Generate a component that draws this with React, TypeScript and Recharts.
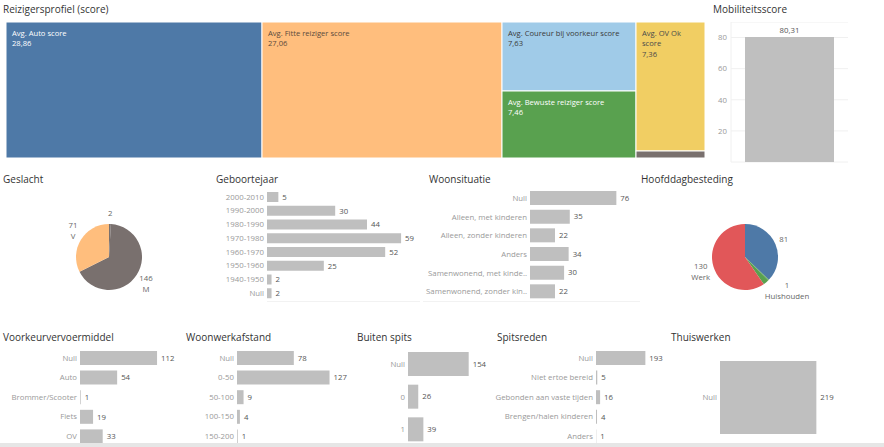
import React from 'react'
import { BarChart, Bar, XAxis, YAxis, LabelList, PieChart, Pie, Cell, Treemap, CartesianGrid } from 'recharts'

const FONT = '"Open Sans", "Noto Sans", sans-serif'
const BAR = '#bfbfbf'
const TICK = '#999999'
const VAL = '#555555'

// Reizigersprofiel (score) - treemap
const profielNamen = [
  'Avg. Auto score',
  'Avg. Fitte reiziger score',
  'Avg. Coureur bij voorkeur score',
  'Avg. Bewuste reiziger score',
  'Avg. OV Ok score',
  'Avg. Overige score',
]
const profielScores = [28.86, 27.06, 7.63, 7.46, 7.36, 0.45]
const profielKleur = ['#4e79a7', '#ffbe7d', '#a0cbe8', '#59a14f', '#f1ce63', '#79706e']
const profielTekst = ['#ffffff', '#5a4a3c', '#3a3a3a', '#ffffff', '#4a4a4a', '#ffffff']

// Mobiliteitsscore
const mobScore = [80.31]
const mobTicks = [0, 20, 40, 60, 80]

// Geslacht
const geslachtNamen = ['Null', 'M', 'V']
const geslachtAantal = [2, 146, 71]
const geslachtKleur = ['#79706e', '#79706e', '#ffbe7d']

// Geboortejaar
const geboorteCat = ['2000-2010', '1990-2000', '1980-1990', '1970-1980', '1960-1970', '1950-1960', '1940-1950', 'Null']
const geboorteAantal = [5, 30, 44, 59, 52, 25, 2, 2]

// Woonsituatie
const woonCat = ['Null', 'Alleen, met kinderen', 'Alleen, zonder kinderen', 'Anders', 'Samenwonend, met kinde..', 'Samenwonend, zonder kin..']
const woonAantal = [76, 35, 22, 34, 30, 22]

// Hoofddagbesteding
const dagNamen = ['Null', 'Huishouden', 'Overig', 'Werk']
const dagAantal = [81, 1, 6, 130]
const dagKleur = ['#4e79a7', '#59a14f', '#59a14f', '#e15759']
const dagVerborgen = ['Overig']

// Voorkeurvervoermiddel
const vervoerCat = ['Null', 'Auto', 'Brommer/Scooter', 'Fiets', 'OV']
const vervoerAantal = [112, 54, 1, 19, 33]

// Woonwerkafstand
const afstandCat = ['Null', '0-50', '50-100', '100-150', '150-200']
const afstandAantal = [78, 127, 9, 4, 1]

// Buiten spits
const spitsCat = ['Null', '0', '1']
const spitsAantal = [154, 26, 39]

// Spitsreden
const redenCat = ['Null', 'Niet ertoe bereid', 'Gebonden aan vaste tijden', 'Brengen/halen kinderen', 'Anders']
const redenAantal = [193, 5, 16, 4, 1]

// Thuiswerken
const thuisCat = ['Null']
const thuisAantal = [219]

const komma = (v: number) => v.toFixed(2).replace('.', ',')

function wrap(text: string, maxChars: number) {
  const words = text.split(' ')
  const lines: string[] = []
  let cur = ''
  words.forEach(w => {
    const next = cur ? cur + ' ' + w : w
    if (next.length > maxChars && cur) {
      lines.push(cur)
      cur = w
    } else cur = next
  })
  if (cur) lines.push(cur)
  return lines
}

function ProfielCell(props: any) {
  const { x, y, width, height, depth, name, value } = props
  if (depth !== 1) return null
  const i = profielNamen.indexOf(name)
  const lines = height > 25 ? [...wrap(name, Math.floor((width - 10) / 3.7)), komma(value)] : []
  return (
    <g>
      <rect x={x} y={y} width={width} height={height} fill={profielKleur[i]} stroke="#fff" strokeWidth={1} />
      {lines.map((l, k) => (
        <text key={k} x={x + 6} y={y + 13.5 + k * 10.5} fontSize={7.6} fill={profielTekst[i]} fontFamily={FONT}>
          {l}
        </text>
      ))}
    </g>
  )
}

function CatTick(props: any) {
  const { x, y, payload } = props
  return (
    <text x={x} y={y} dy={2.8} textAnchor="end" fontSize={7.8} fill={TICK} fontFamily={FONT}>
      {payload.value}
    </text>
  )
}

// Tableau pulls the bottom tick label up inside the pane
function ScoreTick(props: any) {
  const { x, y, payload } = props
  return (
    <text x={x} y={y} dy={payload.value === 0 ? -3 : 2.8} textAnchor="end" fontSize={7.8} fill={TICK} fontFamily={FONT}>
      {payload.value}
    </text>
  )
}

function ValLabel(props: any) {
  const { x, y, width, height, value } = props
  return (
    <text x={x + width + 4} y={y + height / 2 + 2.8} fontSize={7.8} fill={VAL} fontFamily={FONT}>
      {value}
    </text>
  )
}

function HBar({ cats, vals, left, top, width, height, axisWidth, max, barSize }: any) {
  const data = cats.map((naam: string, i: number) => ({ naam, aantal: vals[i] }))
  return (
    <div style={{ position: 'absolute', left, top }}>
      <BarChart width={width + 24} height={height} data={data} layout="vertical" margin={{ top: 0, right: 24, bottom: 0, left: 0 }}>
        <XAxis type="number" domain={[0, max]} hide />
        <YAxis type="category" dataKey="naam" width={axisWidth} axisLine={false} tickLine={false} tickSize={0} tickMargin={3} tick={<CatTick />} interval={0} />
        <Bar dataKey="aantal" fill={BAR} barSize={barSize} isAnimationActive={false}>
          <LabelList dataKey="aantal" content={<ValLabel />} />
        </Bar>
      </BarChart>
    </div>
  )
}

const RAD = Math.PI / 180
function pieLabel(hidden: string[]) {
  return (p: any) => {
    const { cx, cy, midAngle, outerRadius, value, name } = p
    if (hidden.includes(name)) return null
    const cos = Math.cos(-midAngle * RAD)
    const sin = Math.sin(-midAngle * RAD)
    const lines = name !== 'Null' ? [String(value), name] : [String(value)]
    const w = Math.max(...lines.map(l => l.length)) * 4.2
    const h = lines.length * 11
    const ax = cx + (outerRadius + 5) * cos + (cos * w) / 2
    const ay = cy + (outerRadius + 5) * sin + (sin * h) / 2
    const y0 = ay - h / 2 + 8
    return (
      <text x={ax} y={y0} textAnchor="middle" fontSize={7.8} fill="#666" fontFamily={FONT}>
        {lines.map((l, i) => (
          <tspan key={i} x={ax} y={y0 + i * 11}>
            {l}
          </tspan>
        ))}
      </text>
    )
  }
}

function Taart({ namen, vals, kleuren, hidden, cx, cy }: any) {
  const data = namen.map((name: string, i: number) => ({ name, value: vals[i] }))
  return (
    <div style={{ position: 'absolute', left: cx - 85, top: cy - 60 }}>
      <PieChart width={170} height={120} margin={{ top: 0, right: 0, bottom: 0, left: 0 }}>
        <Pie
          data={data}
          dataKey="value"
          nameKey="name"
          cx={85}
          cy={60}
          outerRadius={33}
          startAngle={90}
          endAngle={-270}
          stroke="none"
          label={pieLabel(hidden)}
          labelLine={false}
          isAnimationActive={false}
        >
          {data.map((_: any, i: number) => (
            <Cell key={i} fill={kleuren[i]} />
          ))}
        </Pie>
      </PieChart>
    </div>
  )
}

const titels: [string, number, number][] = [
  ['Reizigersprofiel (score)', 3, 12.5],
  ['Mobiliteitsscore', 713, 12.5],
  ['Geslacht', 3, 182.5],
  ['Geboortejaar', 216, 182.5],
  ['Woonsituatie', 429, 182.5],
  ['Hoofddagbesteding', 641, 182.5],
  ['Voorkeurvervoermiddel', 3, 341],
  ['Woonwerkafstand', 186, 341],
  ['Buiten spits', 357, 341],
  ['Spitsreden', 497, 341],
  ['Thuiswerken', 671, 341],
]

export default function App() {
  const profielData = profielNamen.map((name, i) => ({ name, value: profielScores[i] }))
  const mobData = mobScore.map(score => ({ naam: 'Mobiliteitsscore', score }))

  return (
    <div style={{ position: 'absolute', left: 0, top: 0, width: 884, height: 447, background: '#fff', overflow: 'hidden', fontFamily: FONT }}>
      {/* Treemap */}
      <div style={{ position: 'absolute', left: 6, top: 22 }}>
        <Treemap width={699} height={136} data={profielData} dataKey="value" nameKey="name" content={<ProfielCell />} isAnimationActive={false} />
      </div>

      {/* Mobiliteitsscore */}
      <div style={{ position: 'absolute', left: 700, top: 22 }}>
        <BarChart width={148} height={146} data={mobData} margin={{ top: 0, right: 0, bottom: 6, left: 0 }}>
          <CartesianGrid vertical={false} stroke="#f0f0f0" />
          <XAxis dataKey="naam" hide />
          <YAxis
            domain={[0, 90]}
            ticks={mobTicks}
            width={31}
            axisLine={{ stroke: '#f0f0f0' }}
            tickLine={false}
            tickSize={0}
            tickMargin={4}
            tick={<ScoreTick />}
          />
          <Bar dataKey="score" fill={BAR} barSize={89} isAnimationActive={false}>
            <LabelList dataKey="score" position="top" offset={4} formatter={(v: any) => komma(Number(v))} fill={VAL} style={{ fontSize: 7.8, fontFamily: FONT }} />
          </Bar>
        </BarChart>
      </div>

      <Taart namen={geslachtNamen} vals={geslachtAantal} kleuren={geslachtKleur} hidden={[]} cx={108.5} cy={257} />
      <HBar cats={geboorteCat} vals={geboorteAantal} left={200} top={190} width={217} height={110} axisWidth={67} max={66} barSize={10} />
      <HBar cats={woonCat} vals={woonAantal} left={420} top={189} width={210} height={112} axisWidth={110} max={88} barSize={14} />
      <Taart namen={dagNamen} vals={dagAantal} kleuren={dagKleur} hidden={dagVerborgen} cx={745} cy={257} />

      <HBar cats={vervoerCat} vals={vervoerAantal} left={0} top={348} width={166} height={98} axisWidth={80} max={125} barSize={14} />
      <HBar cats={afstandCat} vals={afstandAantal} left={180} top={348} width={159} height={98} axisWidth={57} max={140} barSize={14} />
      <HBar cats={spitsCat} vals={spitsAantal} left={360} top={348} width={115} height={98} axisWidth={48} max={170} barSize={24} />
      <HBar cats={redenCat} vals={redenAantal} left={470} top={348} width={181} height={98} axisWidth={126} max={215} barSize={14} />
      <HBar cats={thuisCat} vals={thuisAantal} left={670} top={348} width={160} height={99} axisWidth={50} max={250} barSize={73} />

      {/* titles and separators */}
      <svg width={884} height={447} style={{ position: 'absolute', left: 0, top: 0, pointerEvents: 'none' }}>
        <line x1={267} x2={420} y1={301.5} y2={301.5} stroke="#f2f2f2" />
        <line x1={423} x2={640} y1={301.5} y2={301.5} stroke="#f2f2f2" />
        {titels.map(([t, x, y]) => (
          <text key={t} x={x} y={y} fontSize={10} fill="#333" fontFamily={FONT}>
            {t}
          </text>
        ))}
        <rect x={0} y={443} width={884} height={4} fill="#e6e6e6" />
      </svg>
    </div>
  )
}
